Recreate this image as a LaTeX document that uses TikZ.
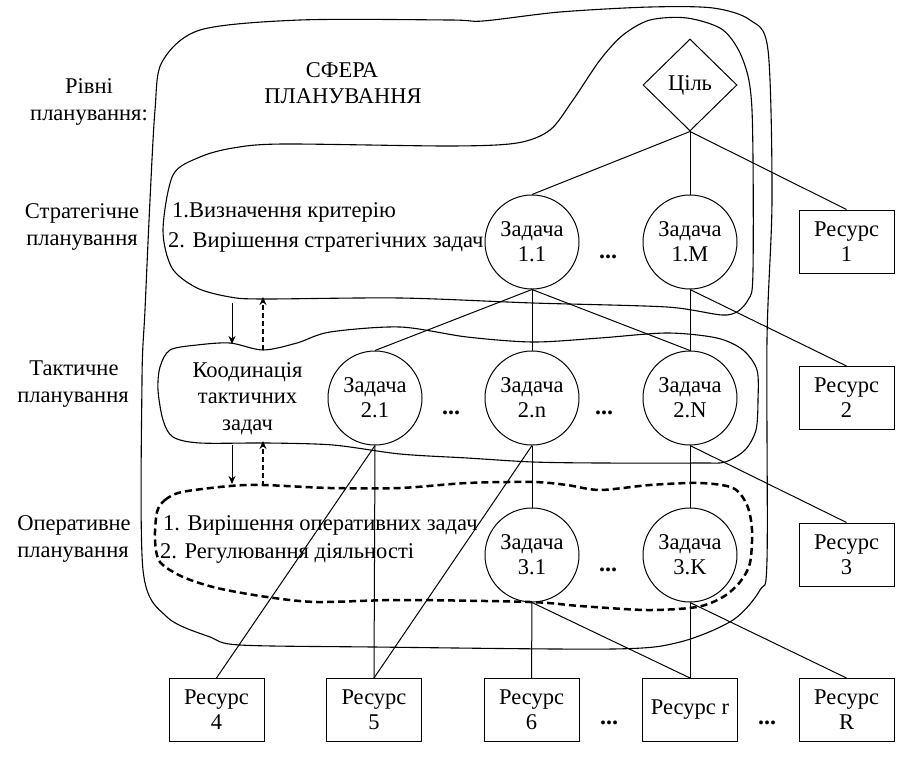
\documentclass[tikz,border=0pt]{standalone}
\usepackage{fontspec}
\setmainfont{Liberation Serif}
\usetikzlibrary{shapes.geometric,arrows.meta}
\begin{document}
\begin{tikzpicture}[x=1pt,y=-1pt,
  every node/.style={font=\fontsize{22.5}{25}\selectfont},
  task/.style={circle,draw,line width=1pt,minimum size=94pt,inner sep=0pt,align=center},
  res/.style={rectangle,draw,line width=1pt,minimum width=95pt,minimum height=63pt,inner sep=0pt,align=center},
  goal/.style={diamond,draw,line width=1pt,minimum width=94pt,minimum height=92pt,inner sep=0pt},
  link/.style={line width=1pt},
  blob/.style={line width=1.1pt},
  opblob/.style={line width=2.5pt,dash pattern=on 7pt off 4pt},
  lbl/.style={anchor=base,inner sep=0pt},
  lblw/.style={anchor=base west,inner sep=0pt},
  dots/.style={inner sep=0pt,font=\fontsize{24}{25}\selectfont\bfseries},
  downarr/.style={line width=1pt,-{Stealth[length=8pt,width=7pt]}},
  uparr/.style={line width=2.5pt,dash pattern=on 5pt off 3pt,-{Stealth[length=8pt,width=7pt]}},
]
\useasboundingbox (0,0) rectangle (898,771);

% ---------- blobs ----------
\draw[blob] plot[smooth cycle] coordinates {
 (155,110) (162,62) (200,30) (300,20) (450,20) (483,21) (560,12) (650,7) (713,8)
 (750,20) (768,50) (772,200) (767,340) (767,560) (760,590) (733,620) (680,642)
 (613,649) (373,647) (240,645) (210,637) (167,617) (143,570) (142,380) (145,310) (150,200)};

\draw[blob] plot[smooth cycle] coordinates {
 (163,230) (173,175) (200,157) (233,148) (283,144) (450,146) (517,143) (550,130)
 (573,100) (600,60) (623,35) (650,20) (687,18) (723,30) (743,60) (752,110)
 (753,270) (748,300) (727,315) (667,307) (533,303) (400,298) (263,299) (230,297)
 (197,288) (172,268)};

\draw[blob] plot[smooth cycle] coordinates {
 (170,350) (197,345) (230,343) (263,350) (297,343) (330,332) (400,327) (467,337)
 (533,342) (600,338) (667,333) (717,338) (743,350) (757,370) (758,400) (756,430)
 (745,450) (725,462) (700,463) (600,463) (533,462) (467,458) (400,454) (333,445)
 (267,443) (200,443) (173,437) (163,420) (158,390) (160,367)};

\draw[opblob] plot[smooth cycle] coordinates {
 (157,512) (165,500) (182,492) (230,486) (263,485) (330,488) (400,488) (467,483)
 (533,482) (567,485) (600,490) (650,485) (700,483) (733,488) (747,505) (752,530)
 (750,563) (740,582) (723,597) (697,607) (647,610) (580,606) (530,602) (400,600)
 (317,602) (267,597) (217,588) (183,577) (160,562) (155,540)};

% ---------- nodes ----------
\node[goal] (goal) at (690,85) {Ціль};

\node[task] (t11) at (532,242) {Задача\\1.1};
\node[task] (t1M) at (690,242) {Задача\\1.M};
\node[res]  (r1)  at (846.5,241.5) {Ресурс\\1};

\node[task] (t21) at (375,398) {Задача\\2.1};
\node[task] (t2n) at (532,398) {Задача\\2.n};
\node[task] (t2N) at (690,398) {Задача\\2.N};
\node[res]  (r2)  at (846.5,398) {Ресурс\\2};

\node[task] (t31) at (532,555) {Задача\\3.1};
\node[task] (t3K) at (690,555) {Задача\\3.K};
\node[res]  (r3)  at (846.5,554.5) {Ресурс\\3};

\node[res] (r4) at (216.5,710) {Ресурс\\4};
\node[res] (r5) at (374,710) {Ресурс\\5};
\node[res] (r6) at (531.5,710) {Ресурс\\6};
\node[res] (rr) at (690,710) {Ресурс r};
\node[res] (rR) at (846.5,710) {Ресурс\\R};

% dots
\node[dots] (d1)  at (608,257) {...};
\node[dots] (d2a) at (451,413) {...};
\node[dots] (d2b) at (604,413) {...};
\node[dots] (d3)  at (608,570) {...};
\node[dots] (d4a) at (609,723) {...};
\node[dots] (d4b) at (767,723) {...};

% ---------- links ----------
\draw[link] (goal.south) -- (t11.north);
\draw[link] (goal.south) -- (t1M.north);
\draw[link] (goal.south) -- (r1.north);

\draw[link] (t11.south) -- (t21.north);
\draw[link] (t11.south) -- (t2n.north);
\draw[link] (t11.south) -- (t2N.north);
\draw[link] (t1M.south) -- (t2N.north);
\draw[link] (t1M.south) -- (r2.north);

\draw[link] (t21.south) -- (r4.north);
\draw[link] (t21.south) -- (r5.north);
\draw[link] (t2n.south) -- (r5.north);
\draw[link] (t2n.south) -- (t31.north);
\draw[link] (t2N.south) -- (t3K.north);
\draw[link] (t2N.south) -- (r3.north);

\draw[link] (t31.south) -- (r6.north);
\draw[link] (t31.south) -- (rr.north);
\draw[link] (t3K.south) -- (rr.north);
\draw[link] (t3K.south) -- (rR.north);

% ---------- arrows between levels ----------
\coordinate (a1s) at (232,303);
\coordinate (a1e) at (232,344);
\coordinate (b1s) at (263,350);
\coordinate (b1e) at (263,297);
\coordinate (a2s) at (232,445);
\coordinate (a2e) at (232,484);
\coordinate (b2s) at (263,486);
\coordinate (b2e) at (263,441);
\draw[downarr] (a1s) -- (a1e);
\draw[uparr] (b1s) -- (b1e);
\draw[downarr] (a2s) -- (a2e);
\draw[uparr] (b2s) -- (b2e);

% ---------- texts ----------
\node[lbl] (l0a) at (89,93) {Рівні};
\node[lbl] (l0b) at (89,120) {планування:};
\node[lbl] (l1a) at (82,218) {Стратегічне};
\node[lbl] (l1b) at (82,245) {планування};
\node[lbl] (l2a) at (74,375) {Тактичне};
\node[lbl] (l2b) at (73,402) {планування};
\node[lbl] (l3a) at (74,530) {Оперативне};
\node[lbl] (l3b) at (73,557) {планування};

\node[lbl] (sfa) at (342,77) {СФЕРА};
\node[lbl] (sfb) at (343,103) {ПЛАНУВАННЯ};

\node[lblw] (s1) at (172,217) {1.Визначення критерію};
\node[lblw] (s2) at (168,247) {2. Вирішення стратегічних задач};

\node[lbl] (k1) at (247.5,377) {Коодинація};
\node[lbl] (k2) at (247.5,403) {тактичних};
\node[lbl] (k3) at (247.5,430) {задач};

\node[lblw] (o1) at (163,530) {1. Вирішення оперативних задач};
\node[lblw] (o2) at (160,558) {2. Регулювання діяльності};
\end{tikzpicture}
\end{document}
